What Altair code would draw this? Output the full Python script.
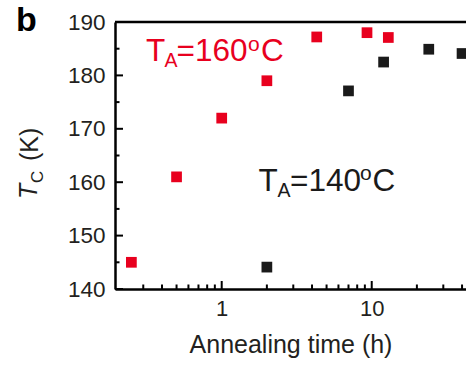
import altair as alt
import pandas as pd

# ---- data ----
red_time = [0.25, 0.5, 1.0, 2.0, 4.3, 9.3, 12.9]
red_tc = [145.0, 161.0, 172.0, 179.0, 187.2, 188.0, 187.1]
black_time = [2.0, 7.0, 12.0, 24.0, 40.0]
black_tc = [144.1, 177.1, 182.5, 184.9, 184.1]

y_major = [140, 150, 160, 170, 180, 190]
y_minor = [145, 155, 165, 175, 185]
x_major = [1, 10]
x_minor = [0.3, 0.4, 0.5, 0.6, 0.7, 0.8, 0.9, 2, 3, 4, 5, 6, 7, 8, 9, 20, 30, 40]

RED = "#E8001E"
BLACK = "#1a1a1a"
FONT = "Liberation Sans"
W, H = 351, 267

pts = pd.DataFrame({
    "time": red_time + black_time,
    "tc": red_tc + black_tc,
    "series": ["160"] * len(red_time) + ["140"] * len(black_time),
})

x_scale = alt.Scale(type="log", domain=[0.1944, 42.5], nice=False)
y_scale = alt.Scale(domain=[140, 190], nice=False, zero=False)

x_axis = alt.Axis(values=x_major, format="~g", tickSize=0, domainWidth=2.5,
                  domainColor="black", labelFont=FONT, labelFontSize=22,
                  labelColor="#231f20", labelPadding=9, grid=False,
                  title="Annealing time (h)", titleFont=FONT, titleFontSize=25,
                  titleFontWeight="normal", titleColor="#231f20", titlePadding=13)
y_axis = alt.Axis(values=y_major, tickSize=0, domainWidth=2.5, domainColor="black",
                  labelFont=FONT, labelFontSize=22.5, labelColor="#231f20",
                  labelPadding=10, grid=False, title=None)


def X(field="time"):
    return alt.X(f"{field}:Q", scale=x_scale, axis=x_axis)


def Y(field="tc"):
    return alt.Y(f"{field}:Q", scale=y_scale, axis=y_axis)


points = alt.Chart(pts).mark_square(size=115, opacity=1, filled=True).encode(
    x=X(), y=Y(),
    color=alt.Color("series:N", scale=alt.Scale(domain=["160", "140"], range=[RED, BLACK]), legend=None),
)

ymaj = alt.Chart(pd.DataFrame({"tc": y_major})).mark_rule(color="black", strokeWidth=2).encode(
    y=Y(), x=alt.value(0), x2=alt.value(8))
ymin = alt.Chart(pd.DataFrame({"tc": y_minor})).mark_rule(color="black", strokeWidth=2).encode(
    y=Y(), x=alt.value(0), x2=alt.value(4.5))
xmaj = alt.Chart(pd.DataFrame({"time": x_major})).mark_rule(color="black", strokeWidth=2).encode(
    x=X(), y=alt.value(H), y2=alt.value(H - 8))
xmin = alt.Chart(pd.DataFrame({"time": x_minor})).mark_rule(color="black", strokeWidth=2).encode(
    x=X(), y=alt.value(H), y2=alt.value(H - 4.5))

top_line = alt.Chart(pd.DataFrame({"a": [0]})).mark_rule(color="black", strokeWidth=2.5).encode(
    x=alt.value(0), x2=alt.value(W), y=alt.value(0))


def txt(s, x, y, size, color, angle=0, style="normal", weight="normal"):
    kw = dict(align="left", baseline="alphabetic", font=FONT, fontSize=size,
              color=color, fontStyle=style, fontWeight=weight)
    if angle:
        kw["angle"] = angle
    return alt.Chart(pd.DataFrame({"t": [s]})).mark_text(**kw).encode(
        text="t:N", x=alt.value(x), y=alt.value(y))


labels = [
    # T_A=160°C (red)
    txt("T", 31, 38.7, 31.5, RED),
    txt("A", 49.5, 45.3, 19.5, RED),
    txt("=160", 61.5, 38.7, 31.5, RED),
    txt("o", 133, 28.7, 21, RED),
    txt("C", 146, 38.7, 31.5, RED),
    # T_A=140°C (black)
    txt("T", 143.5, 168.7, 31.5, BLACK),
    txt("A", 162.5, 175.3, 19.5, BLACK),
    txt("=140", 175, 168.7, 31.5, BLACK),
    txt("o", 245, 158.2, 21, BLACK),
    txt("C", 257.5, 168.7, 31.5, BLACK),
    # y title T_C (K)
    txt("T", -78, 177, 25, "#231f20", angle=270, style="italic"),
    txt("C", -71.7, 161, 17, "#231f20", angle=270),
    txt("(K)", -77, 139, 25, "#231f20", angle=270),
    # panel letter
    txt("b", -99, 8.5, 34, "black", weight="bold"),
]

chart = alt.layer(points, ymaj, ymin, xmaj, xmin, top_line, *labels).properties(
    width=W, height=H,
    autosize=alt.AutoSizeParams(type="none"),
    padding={"left": 115, "top": 22, "right": 0, "bottom": 79},
).configure_view(stroke=None).configure(background="white")

chart.save("out.html", embed_options={"renderer": "svg", "actions": False})
